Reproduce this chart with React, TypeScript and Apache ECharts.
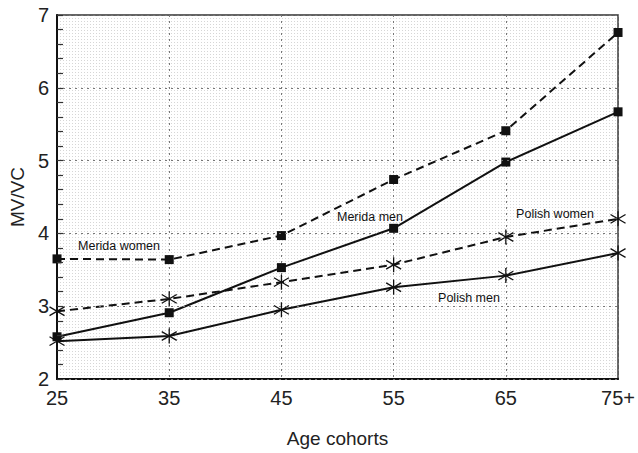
import React, { useEffect, useRef } from "react";
import * as echarts from "echarts";

const categories = ["25", "35", "45", "55", "65", "75+"];
const meridaWomen = [3.65, 3.64, 3.97, 4.74, 5.41, 6.76];
const meridaMen = [2.58, 2.91, 3.53, 4.07, 4.98, 5.67];
const polishWomen = [2.93, 3.1, 3.33, 3.57, 3.95, 4.2];
const polishMen = [2.52, 2.59, 2.95, 3.26, 3.42, 3.73];
const yTicks = [2, 3, 4, 5, 6, 7];

const FONT = "Liberation Sans, Arial, sans-serif";
const ASTERISK = "path://M6,0L6,12M0,2.5L12,9.5M0,9.5L12,2.5";

function makePattern(): string {
  const c = document.createElement("canvas");
  c.width = 3;
  c.height = 3;
  const ctx = c.getContext("2d")!;
  ctx.fillStyle = "#ffffff";
  ctx.fillRect(0, 0, 3, 3);
  ctx.fillStyle = "#d6d6d6";
  ctx.fillRect(0, 0, 1, 1);
  return c.toDataURL();
}

export default function App() {
  const ref = useRef<HTMLDivElement>(null);
  useEffect(() => {
    const chart = echarts.init(ref.current!, null, { renderer: "svg" });
    const sq = { symbol: "rect", symbolSize: 9 };
    const ast = { symbol: ASTERISK, symbolSize: 15 };
    const mk = (name: string, data: number[], dashed: boolean, marker: any) => ({
      name,
      type: "line",
      data,
      ...marker,
      lineStyle: { color: "#111", width: 2, type: dashed ? [8, 5] : "solid" },
      itemStyle: marker.symbol === "rect"
        ? { color: "#111" }
        : { color: "rgba(0,0,0,0)", borderColor: "#111", borderWidth: 1.3 },
      z: 3,
    });
    const label = (text: string, x: number, y: number) => ({
      type: "text",
      x,
      y,
      z: 10,
      style: { text, font: `12.5px ${FONT}`, fill: "#111", align: "center", verticalAlign: "middle" },
    });
    chart.setOption({
      animation: false,
      grid: {
        left: 51,
        right: 17,
        top: 15,
        bottom: 66,
        show: true,
        backgroundColor: { image: makePattern(), repeat: "repeat" },
        borderColor: "#333",
        borderWidth: 1.5,
      },
      xAxis: {
        type: "category",
        data: categories,
        boundaryGap: false,
        name: "Age cohorts",
        nameLocation: "middle",
        nameGap: 50,
        nameTextStyle: { fontFamily: FONT, fontSize: 19, color: "#222" },
        axisLine: { lineStyle: { color: "#111", width: 2 } },
        axisTick: { show: false },
        axisLabel: { fontFamily: FONT, fontSize: 20, color: "#222", margin: 9 },
        splitLine: { show: true, lineStyle: { color: "#777", type: [2, 4], width: 1 } },
      },
      yAxis: {
        type: "value",
        min: 2,
        max: 7,
        interval: 1,
        name: "MV/VC",
        nameLocation: "middle",
        nameGap: 30,
        nameTextStyle: { fontFamily: FONT, fontSize: 19, color: "#222" },
        axisLine: { show: true, lineStyle: { color: "#111", width: 2 } },
        axisTick: { show: true, inside: true, length: 6, lineStyle: { color: "#333", width: 1.2 } },
        minorTick: { show: true, splitNumber: 5, length: 6, lineStyle: { color: "#333", width: 1.2 } },
        minorSplitLine: { show: false },
        axisLabel: {
          fontFamily: FONT,
          fontSize: 20,
          color: "#222",
          margin: 8,
          formatter: (v: number) => (yTicks.includes(v) ? String(v) : ""),
        },
        splitLine: { show: true, lineStyle: { color: "#777", type: [2, 4], width: 1 } },
        z: 5,
      },
      series: [
        mk("Merida women", meridaWomen, true, sq),
        mk("Merida men", meridaMen, false, sq),
        mk("Polish women", polishWomen, true, ast),
        mk("Polish men", polishMen, false, ast),
      ],
      graphic: [
        label("Merida women", 119, 246),
        label("Merida men", 370, 217),
        label("Polish women", 555, 214),
        label("Polish men", 469, 298),
      ],
    });
    return () => chart.dispose();
  }, []);
  return <div ref={ref} style={{ width: 638, height: 453, position: "absolute", left: 0, top: 0 }} />;
}
